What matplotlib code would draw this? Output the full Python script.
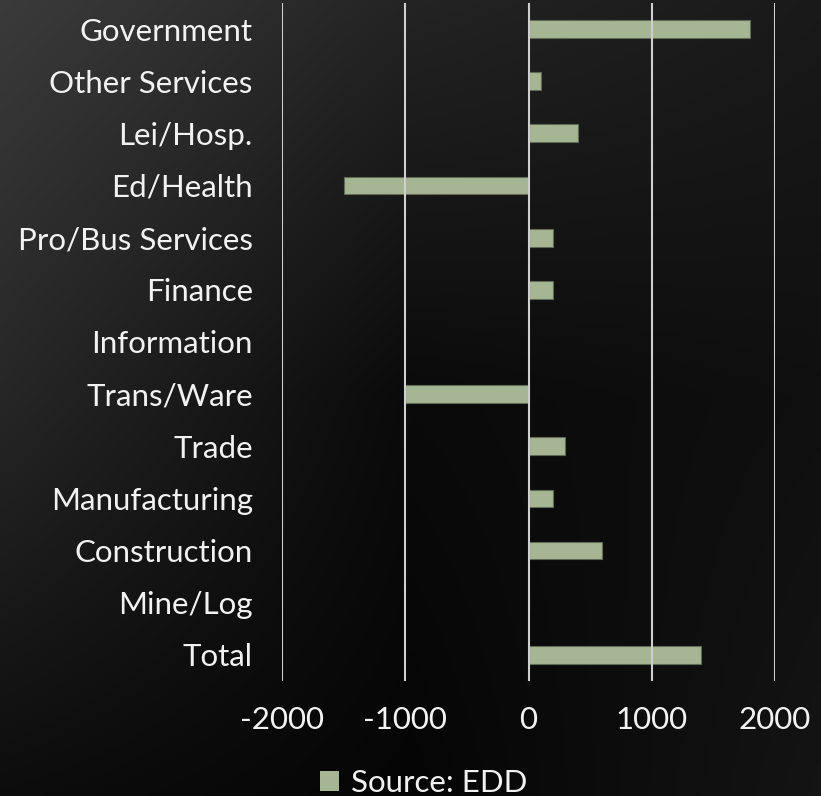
import numpy as np
import matplotlib.pyplot as plt
from matplotlib.patches import Patch

# employment change by sector, top row first
sectors = ["Government", "Other Services", "Lei/Hosp.", "Ed/Health",
           "Pro/Bus Services", "Finance", "Information", "Trans/Ware",
           "Trade", "Manufacturing", "Construction", "Mine/Log", "Total"]
change = [1800, 100, 400, -1500, 200, 200, 0, -1000, 300, 200, 600, 0, 1400]
xticks = [-2000, -1000, 0, 1000, 2000]
source = "Source: EDD"

BAR = "#a6b594"
TXT = "#f2f2f2"
FONT = "Lato"
FS = 22.5

fig = plt.figure(figsize=(8.21, 7.96), dpi=100)

# dark diagonal backdrop
bg = fig.add_axes([0, 0, 1, 1], zorder=-10)
ctrl = np.array([[0.23, 0.14, 0.10],
                 [0.15, 0.04, 0.06],
                 [0.05, 0.02, 0.08]])
yy, xx = np.mgrid[0:1:200j, 0:1:200j]
def bilin(c, x, y):
    gx = x * 2; gy = y * 2
    i = np.clip(gy.astype(int), 0, 1); j = np.clip(gx.astype(int), 0, 1)
    fy = gy - i; fx = gx - j
    return (c[i, j] * (1 - fx) * (1 - fy) + c[i, j + 1] * fx * (1 - fy)
            + c[i + 1, j] * (1 - fx) * fy + c[i + 1, j + 1] * fx * fy)
shade = bilin(ctrl, xx, yy)
bg.imshow(np.dstack([shade] * 3), extent=[0, 1, 0, 1], aspect="auto",
          interpolation="bilinear")
bg.axis("off")

ax = fig.add_axes([0.3435, 0.1445, 0.6005, 0.8518])
ax.set_facecolor("none")
pos = np.arange(len(sectors))[::-1]
ax.barh(pos, change, height=0.34, color=BAR, edgecolor="#5f6b55",
        linewidth=0.8, zorder=2)
for x in xticks:
    ax.axvline(x, color="#cfcfcf", linewidth=1.5, zorder=3)

ax.set_xlim(-2000, 2000)
ax.set_ylim(-0.5, 12.5)
ax.set_xticks(xticks)
ax.set_xticklabels([str(t) for t in xticks])
ax.set_yticks(pos)
ax.set_yticklabels(sectors)
ax.tick_params(length=0, colors=TXT, labelsize=FS)
ax.tick_params(axis="x", pad=18)
ax.tick_params(axis="y", pad=21)
for lbl in ax.get_xticklabels() + ax.get_yticklabels():
    lbl.set_fontfamily(FONT)
for s in ax.spines.values():
    s.set_visible(False)

fig.legend(handles=[Patch(facecolor=BAR, edgecolor="none")], labels=[source],
           loc="center", bbox_to_anchor=(0.516, 0.016), frameon=False,
           handlelength=0.6, handleheight=0.6, handletextpad=0.4,
           borderpad=0, prop={"family": FONT, "size": FS}, labelcolor=TXT)

fig.savefig("out.png", dpi=100)
